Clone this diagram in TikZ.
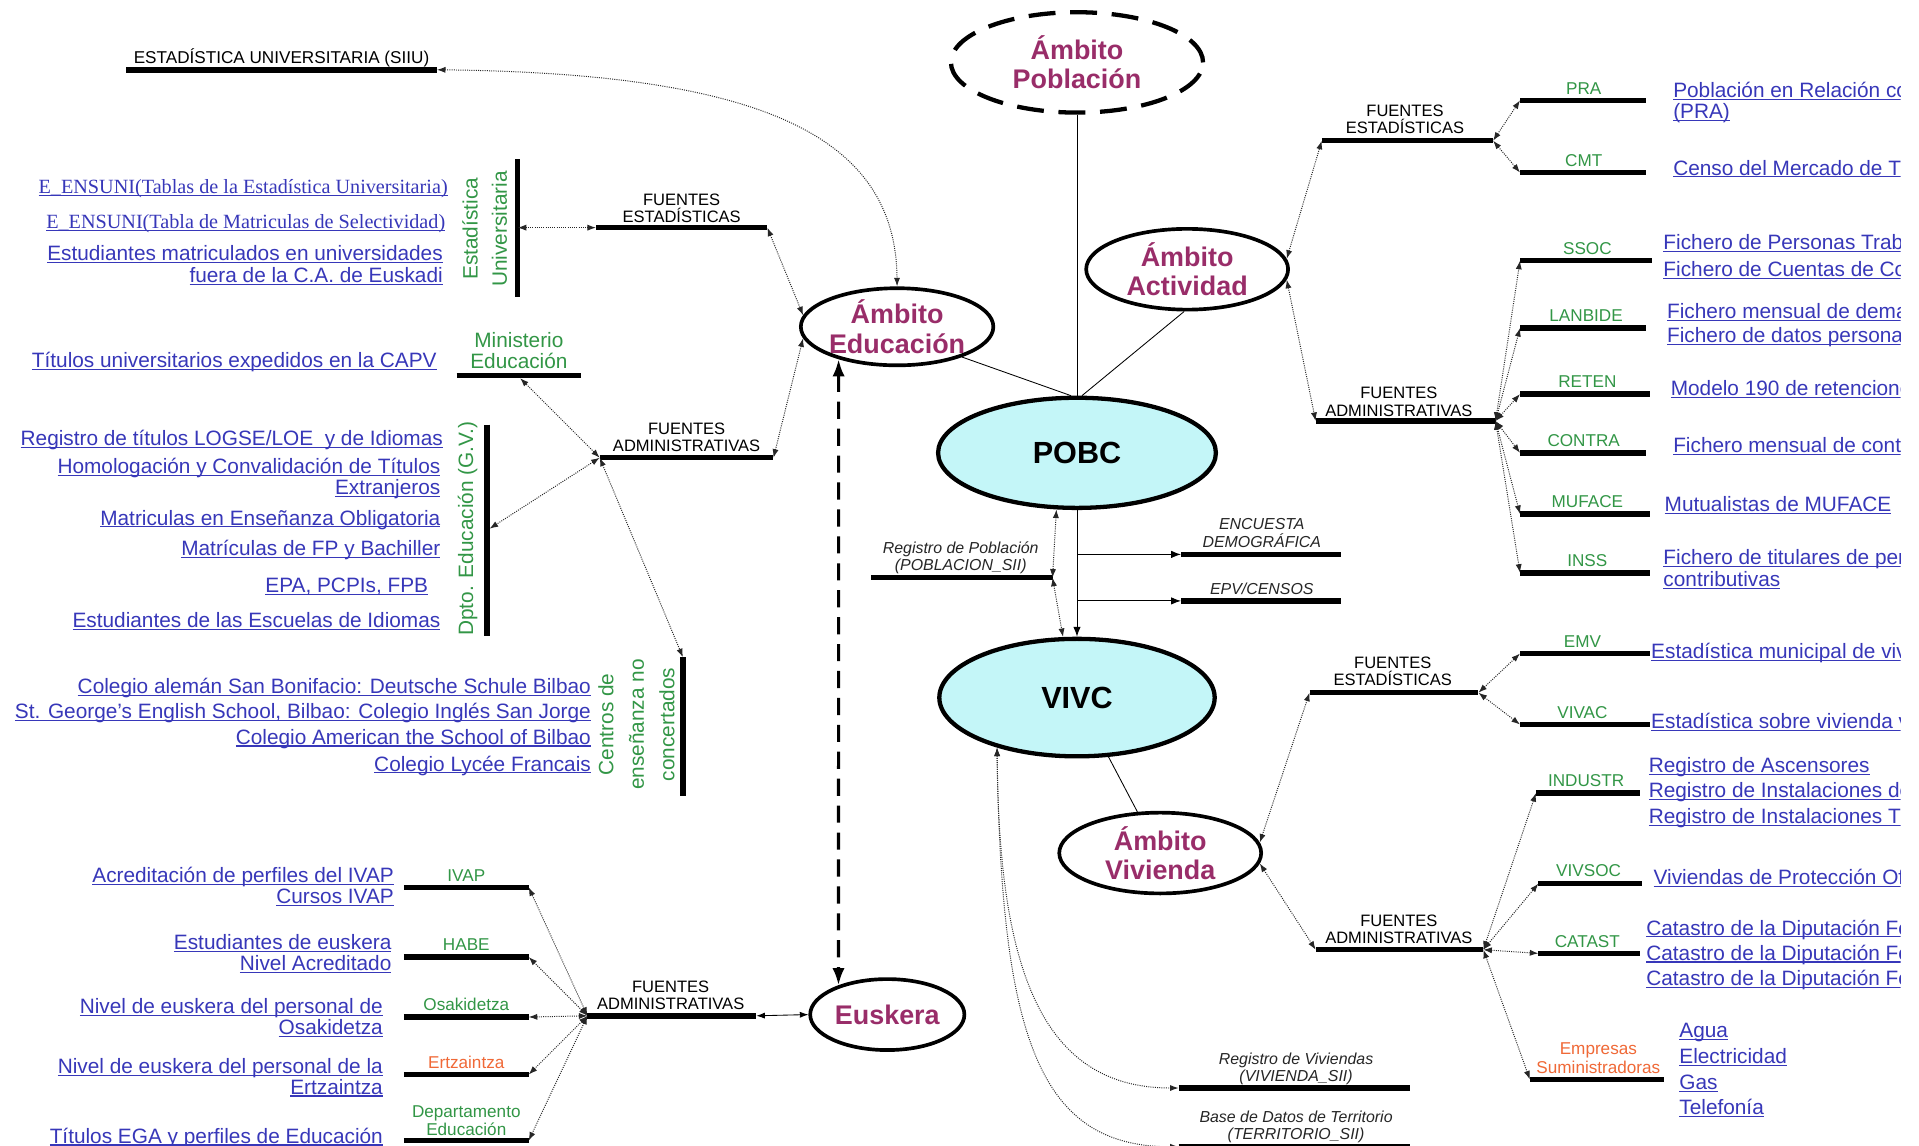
\documentclass[tikz,border=0pt]{standalone}
\usepackage{fontspec}
\setmainfont{Liberation Sans}
\newfontfamily\tnr{Liberation Serif}
\usetikzlibrary{shapes.geometric,arrows.meta}
\definecolor{purp}{RGB}{153,45,105}
\definecolor{linkb}{RGB}{55,55,185}
\definecolor{grn}{RGB}{50,150,70}
\definecolor{orng}{RGB}{240,105,55}
\definecolor{cyf}{RGB}{196,246,248}
\newcommand\lk[1]{\setbox0\hbox{#1}\rlap{\rule[-2pt]{\wd0}{0.9pt}}\box0}
\newcommand\mkbar[4]{\coordinate (#1L) at (#2,#4); \coordinate (#1R) at (#3,#4); \draw[barline] (#1L) -- (#1R);}
\tikzset{
 amb/.style={ellipse, draw, line width=3pt, inner sep=0pt, align=center, font=\fontsize{22}{24}\selectfont\bfseries, text=purp},
 core/.style={ellipse, draw, line width=3.5pt, fill=cyf, inner sep=0pt, font=\fontsize{25}{27}\selectfont\bfseries},
 barline/.style={line width=4.5pt},
 fuente/.style={align=center, font=\fontsize{13.5}{14}\selectfont, anchor=base, inner sep=0pt},
 glab/.style={text=grn, align=center, font=\fontsize{14}{15}\selectfont, anchor=base, inner sep=0pt},
 olab/.style={glab, text=orng},
 ital/.style={align=center, font=\fontsize{13}{14}\selectfont\itshape, anchor=base, text=black!85, inner sep=0pt},
 linkL/.style={anchor=base east, align=right, text=linkb, inner sep=0pt, font=\fontsize{17}{17}\selectfont},
 linkR/.style={anchor=base west, align=left, text=linkb, inner sep=0pt, font=\fontsize{17}{21}\selectfont},
 rotg/.style={rotate=90, text=grn, align=center, inner sep=0pt, font=\fontsize{17}{24}\selectfont},
 dotarr/.style={densely dotted, line width=0.8pt, black!85, {Latex[length=7pt,width=5pt]}-{Latex[length=7pt,width=5pt]}},
 solarr/.style={line width=0.7pt, {Latex[length=7pt,width=5pt]}-{Latex[length=7pt,width=5pt]}},
 onearr/.style={line width=0.8pt, -{Latex[length=8pt,width=6pt]}},
 conn/.style={line width=0.7pt},
 bigdash/.style={line width=2.5pt, dash pattern=on 14pt off 8pt, {Latex[length=14pt,width=10pt]}-{Latex[length=14pt,width=10pt]}}
}
\begin{document}
\begin{tikzpicture}[x=1pt,y=-1pt]
\fill[white] (0,0) rectangle (1568,936);
\useasboundingbox (0,0) rectangle (1568,936);

% ---------- ellipses ----------
\node[amb, line width=3.5pt, dash pattern=on 22pt off 12pt, minimum width=206pt, minimum height=82pt] (pob) at (880,51) {Ámbito\\Población};
\node[amb, minimum width=152pt, minimum height=63pt] (edu) at (733,267) {Ámbito\\Educación};
\node[amb, minimum width=165pt, minimum height=66pt] (act) at (970,220) {Ámbito\\Actividad};
\node[core, minimum width=227pt, minimum height=90pt] (pobc) at (880,370) {POBC};
\node[core, minimum width=225pt, minimum height=96pt] (vivc) at (880,570) {VIVC};
\node[amb, minimum width=165pt, minimum height=66pt] (viv) at (948,697) {Ámbito\\Vivienda};
\node[amb, minimum width=126pt, minimum height=58pt] (eus) at (725,829) {Euskera};

\draw[conn] (pob.south) -- (pobc.north);
\draw[conn] (edu.335) -- (pobc.96);
\draw[conn] (act.266) -- (pobc.85);
\draw[conn] (vivc.298) -- (viv.119);
\draw[bigdash] (edu.209) -- (eus.149.5);

% ---------- left: Educacion ----------
\mkbar{siiu}{103}{357}{57}
\node[fuente, font=\fontsize{14}{15}\selectfont] (siiut) at (230,52) {ESTADÍSTICA UNIVERSITARIA (SIIU)};
\draw[dotarr] (siiuR) .. controls (620,60) and (732,110) .. (edu.north);

\coordinate (euT) at (423,130); \coordinate (euB) at (423,243); \coordinate (euM) at (423,186);
\draw[barline] (euT) -- (euB);
\node[rotg] (eut) at (396,187) {Estadística\\Universitaria};
\node[linkL, font=\fontsize{16.5}{17}\selectfont\tnr] (k1) at (366,158) {\lk{E\_ENSUNI(Tablas de la Estadística Universitaria)}};
\node[linkL, font=\fontsize{16.5}{17}\selectfont\tnr] (k2) at (364,187) {\lk{E\_ENSUNI(Tabla de Matriculas de Selectividad)}};
\node[linkL, font=\fontsize{17}{18}\selectfont] (k3) at (362,231) {\lk{Estudiantes matriculados en universidades}\\\lk{fuera de la C.A. de Euskadi}};

\mkbar{lfe}{487}{627}{186}
\node[fuente] (lfet) at (557,182) {FUENTES\\ESTADÍSTICAS};
\draw[dotarr] (euM) -- (lfeL);
\draw[dotarr] (lfeR) -- (edu.173);

\mkbar{min}{373}{475}{307}
\coordinate (minM) at (425,309);
\node[glab, font=\fontsize{17}{17}\selectfont] (mint) at (424,301) {Ministerio\\Educación};
\node[linkL] (k4) at (357,300) {\lk{Títulos universitarios expedidos en la CAPV}};

\mkbar{lfa}{490}{632}{374}
\node[fuente] (lfat) at (561,369) {FUENTES\\ADMINISTRATIVAS};
\draw[dotarr] (lfaR) -- (edu.187);
\draw[dotarr] (lfaL) -- (minM);

\coordinate (dpT) at (398,347); \coordinate (dpB) at (398,520); \coordinate (dpM) at (400,432);
\draw[barline] (dpT) -- (dpB);
\node[rotg] (dpt) at (382,432) {Dpto. Educación (G.V.)};
\draw[dotarr] (lfaL) -- (dpM);
\node[linkL] (k5) at (362,364) {\lk{Registro de títulos LOGSE/LOE\ \ y de Idiomas}};
\node[linkL] (k6) at (360,404) {\lk{Homologación y Convalidación de Títulos}\\\lk{Extranjeros}};
\node[linkL] (k7) at (360,429) {\lk{Matriculas en Enseñanza Obligatoria}};
\node[linkL] (k8) at (360,454) {\lk{Matrículas de FP y Bachiller}};
\node[linkL] (k9) at (350,484) {\lk{EPA, PCPIs, FPB}};
\node[linkL] (k10) at (360,513) {\lk{Estudiantes de las Escuelas de Idiomas}};

\coordinate (ceT) at (558,537); \coordinate (ceB) at (558,650);
\draw[barline] (ceT) -- (ceB);
\node[rotg, font=\fontsize{17}{25}\selectfont] (cent) at (520,592) {Centros de\\enseñanza no\\concertados};
\draw[dotarr] (lfaL) -- (ceT);
\node[linkL] (k11) at (483,567) {\lk{Colegio alemán San Bonifacio: Deutsche Schule Bilbao}};
\node[linkL] (k12) at (483,587) {\lk{St. George's English School, Bilbao: Colegio Inglés San Jorge}};
\node[linkL] (k13) at (483,608) {\lk{Colegio American the School of Bilbao}};
\node[linkL] (k14) at (483,630) {\lk{Colegio Lycée Francais}};

% ---------- left bottom: Euskera ----------
\mkbar{efa}{480}{618}{830}
\node[fuente] (efat) at (548,825) {FUENTES\\ADMINISTRATIVAS};
\draw[solarr] (efaR) -- (eus.west);

\mkbar{ivap}{330}{432}{725}
\node[glab] (ivapt) at (381,720) {IVAP};
\node[linkL] (k15) at (322,738) {\lk{Acreditación de perfiles del IVAP}\\\lk{Cursos IVAP}};
\mkbar{habe}{330}{432}{782}
\node[glab] (habet) at (381,777) {HABE};
\node[linkL] (k16) at (320,793) {\lk{Estudiantes de euskera}\\\lk{Nivel Acreditado}};
\mkbar{osak}{330}{432}{831}
\node[glab] (osakt) at (381,826) {Osakidetza};
\node[linkL] (k17) at (313,845) {\lk{Nivel de euskera del personal de}\\\lk{Osakidetza}};
\mkbar{ertz}{330}{432}{878}
\node[olab] (ertzt) at (381,873) {Ertzaintza};
\node[linkL] (k18) at (313,894) {\lk{Nivel de euskera del personal de la}\\\lk{Ertzaintza}};
\mkbar{dep}{330}{432}{932}
\node[glab] (dept) at (381,928) {Departamento\\Educación};
\node[linkL] (k19) at (313,934) {\lk{Títulos EGA y perfiles de Educación}};
\foreach \b in {ivap,habe,osak,ertz,dep} \draw[dotarr] (efaL) -- (\b R);

% ---------- centre ----------
\mkbar{regp}{712}{860}{472}
\node[ital] (regpt) at (785,466) {Registro de Población\\(POBLACION\_SII)};
\draw[dotarr] (pobc.250) -- (regpR);
\draw[dotarr] (regpR) -- (vivc.103);
\draw[onearr] (pobc.south) -- (vivc.north);
\coordinate (br1) at (880,453); \coordinate (br2) at (880,491);
\mkbar{enc}{965}{1096}{453}
\node[ital] (enct) at (1031,447) {ENCUESTA\\DEMOGRÁFICA};
\mkbar{epv}{965}{1096}{491}
\node[ital] (epvt) at (1031,486) {EPV/CENSOS};
\draw[onearr] (br1) -- (encL);
\draw[onearr] (br2) -- (epvL);

\mkbar{rv}{963}{1152}{889}
\node[ital] (rvt) at (1059,884) {Registro de Viviendas\\(VIVIENDA\_SII)};
\mkbar{bt}{963}{1152}{937}
\node[ital] (btt) at (1059,931) {Base de Datos de Territorio\\(TERRITORIO\_SII)};
\draw[dotarr] (vivc.212) .. controls (816,790) and (850,889) .. (rvL);
\draw[dotarr] (vivc.212) .. controls (818,850) and (850,937) .. (btL);

% ---------- right top: Actividad ----------
\mkbar{rfe}{1080}{1220}{115}
\node[fuente] (rfet) at (1148,109) {FUENTES\\ESTADÍSTICAS};
\mkbar{rfa}{1075}{1222}{344}
\node[fuente] (rfat) at (1143,340) {FUENTES\\ADMINISTRATIVAS};
\draw[dotarr] (act.6) -- (rfeL);
\draw[dotarr] (act.354) -- (rfaL);

\mkbar{pra}{1242}{1345}{82}
\node[glab] (prat) at (1294,77) {PRA};
\mkbar{cmt}{1242}{1345}{141}
\node[glab] (cmtt) at (1294,136) {CMT};
\draw[dotarr] (rfeR) -- (praL);
\draw[dotarr] (rfeR) -- (cmtL);

\mkbar{ssoc}{1242}{1350}{213}
\node[glab] (ssoct) at (1297,208) {SSOC};
\mkbar{lan}{1242}{1345}{268}
\node[glab] (lant) at (1296,263) {LANBIDE};
\mkbar{ret}{1242}{1348}{322}
\node[glab] (rett) at (1297,317) {RETEN};
\mkbar{con}{1242}{1345}{370}
\node[glab] (cont) at (1294,365) {CONTRA};
\mkbar{muf}{1242}{1348}{420}
\node[glab] (muft) at (1297,415) {MUFACE};
\mkbar{ins}{1242}{1348}{468}
\node[glab] (inst) at (1297,463) {INSS};
\foreach \b in {ssoc,lan,ret,con,muf,ins} \draw[dotarr] (rfaR) -- (\b L);

% ---------- right bottom: Vivienda ----------
\mkbar{vfe}{1070}{1208}{566}
\node[fuente] (vfet) at (1138,560) {FUENTES\\ESTADÍSTICAS};
\mkbar{vfa}{1075}{1212}{776}
\node[fuente] (vfat) at (1143,771) {FUENTES\\ADMINISTRATIVAS};
\draw[dotarr] (viv.6) -- (vfeL);
\draw[dotarr] (viv.354) -- (vfaL);

\mkbar{emv}{1242}{1348}{534}
\node[glab] (emvt) at (1293,529) {EMV};
\mkbar{viva}{1242}{1348}{592}
\node[glab] (vivat) at (1293,587) {VIVAC};
\draw[dotarr] (vfeR) -- (emvL);
\draw[dotarr] (vfeR) -- (vivaL);

\mkbar{ind}{1255}{1340}{648}
\node[glab] (indt) at (1296,643) {INDUSTR};
\mkbar{vso}{1257}{1342}{722}
\node[glab] (vsot) at (1298,716) {VIVSOC};
\mkbar{cat}{1257}{1340}{779}
\node[glab] (catt) at (1297,774) {CATAST};
\mkbar{emp}{1250}{1360}{882}
\node[olab] (empt) at (1306,877) {Empresas\\Suministradoras};
\foreach \b in {ind,vso,cat,emp} \draw[dotarr] (vfaR) -- (\b L);

% ---------- right links (cut at the edge) ----------
\begin{scope}
\clip (0,0) rectangle (1553,936);
\node[linkR, font=\fontsize{17}{17}\selectfont] (r1) at (1367,97) {\lk{Población en Relación con la Actividad}\\\lk{(PRA)}};
\node[linkR] (r2) at (1367,143) {\lk{Censo del Mercado de Trabajo}};
\node[linkR, font=\fontsize{17}{22}\selectfont] (r3) at (1359,226) {\lk{Fichero de Personas Trabajadoras}\\\lk{Fichero de Cuentas de Cotización}};
\node[linkR, font=\fontsize{17}{20}\selectfont] (r4) at (1362,280) {\lk{Fichero mensual de demandantes}\\\lk{Fichero de datos personales}};
\node[linkR] (r5) at (1365,323) {\lk{Modelo 190 de retenciones}};
\node[linkR] (r6) at (1367,370) {\lk{Fichero mensual de contratos}};
\node[linkR] (r7) at (1360,418) {\lk{Mutualistas de MUFACE}};
\node[linkR, font=\fontsize{17}{18}\selectfont] (r8) at (1359,479) {\lk{Fichero de titulares de pensiones}\\\lk{contributivas}};
\node[linkR] (r9) at (1349,538) {\lk{Estadística municipal de viviendas}};
\node[linkR] (r10) at (1349,595) {\lk{Estadística sobre vivienda vacía}};
\node[linkR] (r11) at (1347,673) {\lk{Registro de Ascensores}\\\lk{Registro de Instalaciones de}\\\lk{Registro de Instalaciones Térmicas}};
\node[linkR] (r12) at (1351,723) {\lk{Viviendas de Protección Oficial}};
\node[linkR, font=\fontsize{17}{20.5}\selectfont] (r13) at (1345,805) {\lk{Catastro de la Diputación Foral}\\\lk{Catastro de la Diputación Foral}\\\lk{Catastro de la Diputación Foral}};
\node[linkR] (r14) at (1372,911) {\lk{Agua}\\\lk{Electricidad}\\\lk{Gas}\\\lk{Telefonía}};
\end{scope}
\end{tikzpicture}
\end{document}
